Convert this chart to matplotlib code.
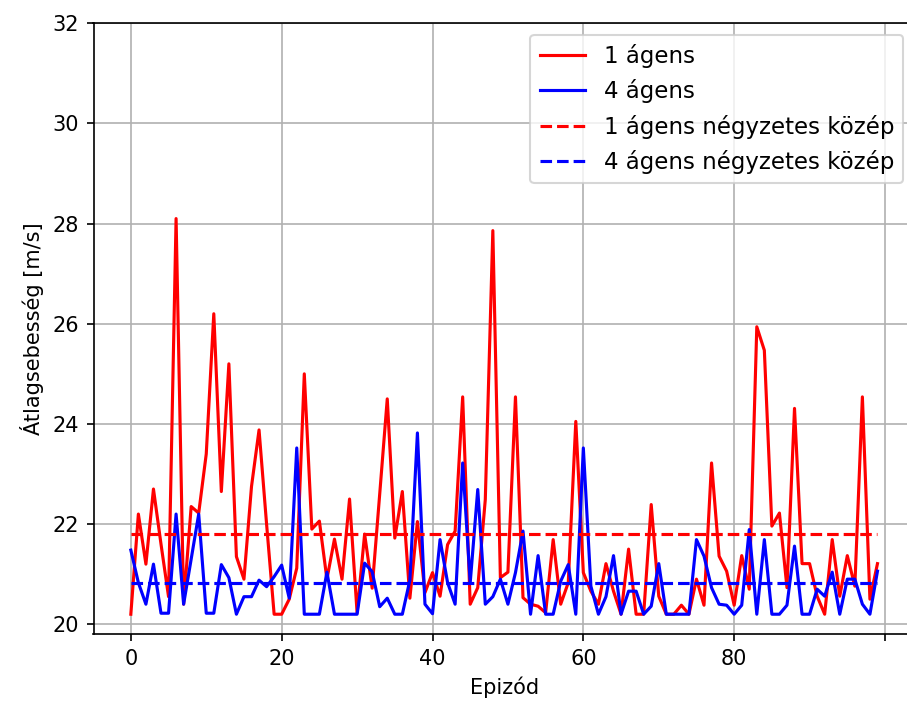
import numpy as np
import matplotlib
matplotlib.use("Agg")
import matplotlib.pyplot as plt

# average speed per episode
speed_1_agent = [
    20.2, 22.2, 21.2, 22.7, 21.6, 20.55, 28.1, 20.4, 22.35, 22.22,
    23.4, 26.2, 22.65, 25.2, 21.35, 20.9, 22.75, 23.88, 22.0, 20.2,
    20.2, 20.5, 21.12, 25.0, 21.9, 22.06, 20.9, 21.7, 20.9, 22.5,
    20.23, 21.8, 20.72, 22.6, 24.5, 21.72, 22.65, 20.52, 22.05, 20.63,
    21.03, 20.56, 21.59, 21.86, 24.54, 20.4, 20.73, 22.49, 27.86, 20.93,
    21.04, 24.54, 20.53, 20.4, 20.36, 20.23, 21.69, 20.4, 20.83, 24.05,
    21.03, 20.66, 20.4, 21.21, 20.66, 20.2, 21.5, 20.2, 20.2, 22.39,
    20.56, 20.2, 20.2, 20.38, 20.2, 20.9, 20.38, 23.22, 21.36, 21.06,
    20.38, 21.37, 20.7, 25.94, 25.47, 21.96, 22.22, 20.73, 24.31, 21.21,
    21.21, 20.56, 20.2, 21.69, 20.56, 21.37, 20.76, 24.54, 20.5, 21.21,
]

speed_4_agent = [
    21.48, 20.83, 20.4, 21.2, 20.22, 20.22, 22.2, 20.4, 21.3, 22.2,
    20.22, 20.22, 21.19, 20.93, 20.2, 20.55, 20.55, 20.88, 20.75, 20.95,
    21.18, 20.52, 23.52, 20.2, 20.2, 20.2, 21.04, 20.2, 20.2, 20.2,
    20.2, 21.22, 21.05, 20.35, 20.52, 20.2, 20.2, 20.88, 23.82, 20.4,
    20.21, 21.69, 20.83, 20.4, 23.22, 20.83, 22.69, 20.4, 20.55, 20.9,
    20.4, 21.03, 21.86, 20.2, 21.37, 20.2, 20.2, 20.86, 21.19, 20.2,
    23.52, 20.76, 20.2, 20.55, 21.37, 20.2, 20.66, 20.66, 20.2, 20.36,
    21.21, 20.2, 20.2, 20.2, 20.2, 21.69, 21.36, 20.73, 20.4, 20.38,
    20.2, 20.38, 21.89, 20.2, 21.69, 20.2, 20.2, 20.38, 21.56, 20.2,
    20.2, 20.7, 20.56, 21.04, 20.2, 20.9, 20.9, 20.4, 20.2, 21.06,
]

x_ticks = [0, 20, 40, 60, 80, 100]
x_tick_labels = ["0", "20", "40", "60", "80", ""]

episodes = np.arange(len(speed_1_agent))
v1 = np.array(speed_1_agent)
v4 = np.array(speed_4_agent)

# quadratic mean of each series
rms_1 = np.sqrt(np.mean(v1 ** 2))
rms_4 = np.sqrt(np.mean(v4 ** 2))

fig = plt.figure(figsize=(907 / 150, 706 / 150), dpi=150)
# axes run past the right edge like in the cropped reference
ax = fig.add_axes([93.5 / 907, 72 / 706, 821.3 / 907, 610.7 / 706])

ax.plot(episodes, v1, color="red", label="1 ágens")
ax.plot(episodes, v4, color="blue", label="4 ágens")
ax.plot(episodes, np.full(len(episodes), rms_1), "r--", label="1 ágens négyzetes közép")
ax.plot(episodes, np.full(len(episodes), rms_4), "b--", label="4 ágens négyzetes közép")

ax.set_ylim(top=32)
ax.set_xticks(x_ticks)
ax.set_xticklabels(x_tick_labels)
ax.set_xlabel("Epizód")
ax.set_ylabel("Átlagsebesség [m/s]")
ax.grid(True)
ax.legend(loc="upper right", fontsize=11)

fig.savefig("out.png", dpi=150)
